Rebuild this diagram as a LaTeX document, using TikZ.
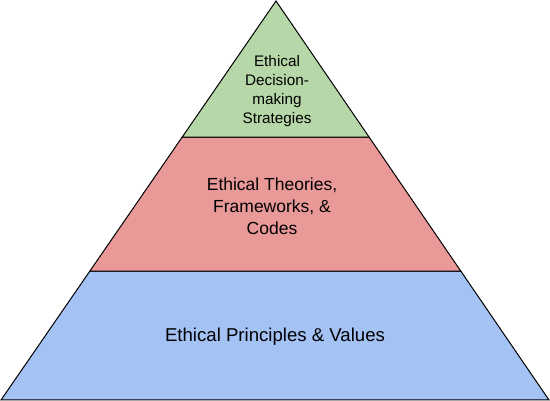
\documentclass[tikz,border=0pt]{standalone}
\usepackage{fontspec}
\setmainfont{Liberation Sans}
\usetikzlibrary{calc}
\definecolor{topgreen}{HTML}{B6D7A8}
\definecolor{midred}{HTML}{EA9999}
\definecolor{botblue}{HTML}{A4C2F4}
\begin{document}
\begin{tikzpicture}[x=1pt,y=-1pt,
  layer/.style={draw=black,line width=1pt,line join=miter},
  lbl/.style={align=center,inner sep=0pt,text=black}]
\useasboundingbox (0,0) rectangle (550,401);
\coordinate (apex) at (276,1);
\coordinate (bl) at (1,400);
\coordinate (br) at (549,400);
\coordinate (l1) at ($(apex)!0.3409!(bl)$);
\coordinate (r1) at ($(apex)!0.3409!(br)$);
\coordinate (l2) at ($(apex)!0.6767!(bl)$);
\coordinate (r2) at ($(apex)!0.6767!(br)$);
\draw[layer,fill=botblue] (l2) -- (r2) -- (br) -- (bl) -- cycle;
\draw[layer,fill=midred] (l1) -- (r1) -- (r2) -- (l2) -- cycle;
\draw[layer,fill=topgreen] (apex) -- (r1) -- (l1) -- cycle;
\node[lbl,font=\fontsize{15.3}{18.7}\selectfont] (t1) at (277,91) {Ethical\\Decision-\\making\\Strategies};
\node[lbl,font=\fontsize{17.5}{22}\selectfont] (t2) at (272,206) {Ethical Theories,\\Frameworks, \&\\Codes};
\node[lbl,font=\fontsize{18.6}{22}\selectfont] (t3) at (275,337) {Ethical Principles \& Values};
\end{tikzpicture}
\end{document}
